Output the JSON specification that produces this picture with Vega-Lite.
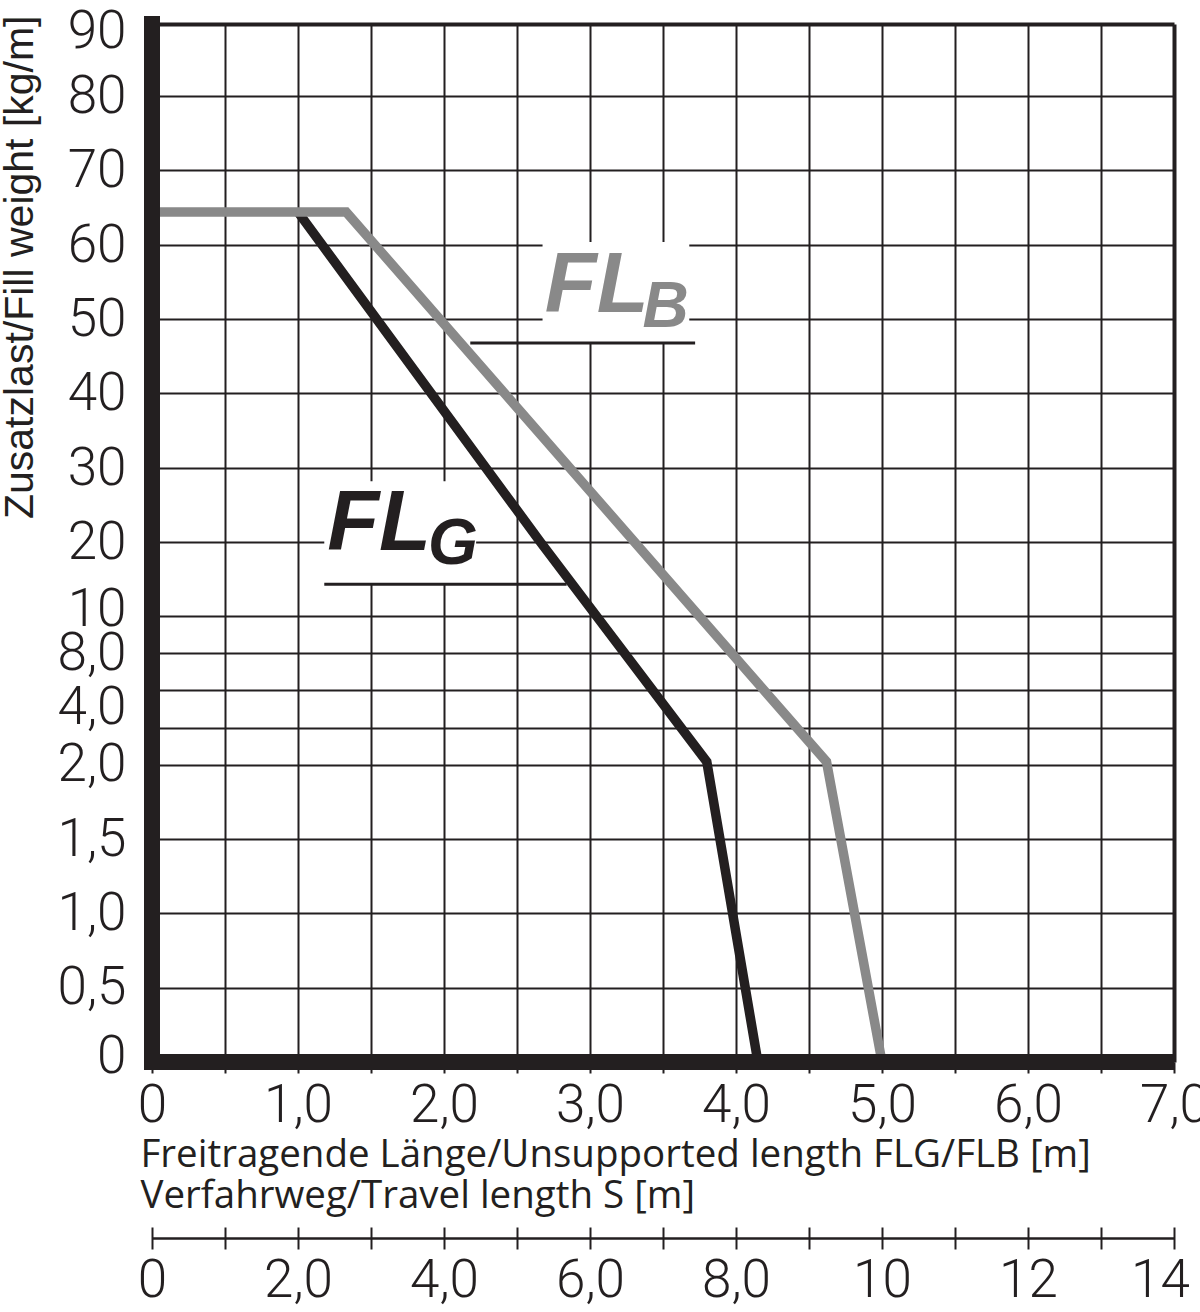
{
  "$schema": "https://vega.github.io/schema/vega-lite/v6.json",
  "width": 1022,
  "height": 1038,
  "autosize": {"type": "none"},
  "padding": {"left": 152, "top": 24, "right": 26, "bottom": 250},
  "background": "white",
  "config": {"view": {"stroke": null}},
  "datasets": {
    "curves": [
      {"series": "FL_G", "FL": 1.0, "load": 64.4},
      {"series": "FL_G", "FL": 2.66, "load": 20},
      {"series": "FL_G", "FL": 3.8, "load": 2.15},
      {"series": "FL_G", "FL": 4.15, "load": 0},
      {"series": "FL_B", "FL": 0, "load": 64.4},
      {"series": "FL_B", "FL": 1.33, "load": 64.4},
      {"series": "FL_B", "FL": 4.62, "load": 2.15},
      {"series": "FL_B", "FL": 5.0, "load": 0}
    ],
    "labelBoxes": [
      {"series": "FL_B", "FL_start": 2.675, "FL_end": 3.68, "load_low": 46.75, "load_high": 60.4},
      {"series": "FL_G", "FL_start": 1.18, "FL_end": 2.22, "load_low": 14.3, "load_high": 28.2}
    ],
    "underlines": [
      {"series": "FL_B", "FL_start": 2.18, "FL_end": 3.72, "load": 46.75},
      {"series": "FL_G", "FL_start": 1.18, "FL_end": 2.84, "load": 14.3}
    ],
    "labels": [
      {"series": "FL_B", "part": "main", "text": "FL", "FL": 2.69, "load": 50.95},
      {"series": "FL_B", "part": "sub", "text": "B", "FL": 3.36, "load": 48.9},
      {"series": "FL_G", "part": "main", "text": "FL", "FL": 1.2, "load": 18.9},
      {"series": "FL_G", "part": "sub", "text": "G", "FL": 1.89, "load": 17.0}
    ],
    "frame": [
      {"edge": "bottom", "FL_start": 0, "FL_end": 7, "load_low": 0, "load_high": 0},
      {"edge": "left", "FL_start": 0, "FL_end": 0, "load_low": 0, "load_high": 90}
    ],
    "travel": [
      {"S": 0}, {"S": 14}
    ]
  },
  "resolve": {"scale": {"x": "independent"}},
  "layer": [
    {
      "data": {"name": "curves"},
      "transform": [{"filter": "datum.series == 'FL_G'"}],
      "mark": {"type": "line", "strokeWidth": 9.5, "strokeJoin": "miter", "strokeCap": "butt", "color": "#231f20"},
      "encoding": {
        "x": {
          "field": "FL", "type": "quantitative",
          "scale": {"domain": [0, 7], "nice": false, "zero": false},
          "axis": {
            "orient": "bottom",
            "values": [0, 0.5, 1, 1.5, 2, 2.5, 3, 3.5, 4, 4.5, 5, 5.5, 6, 6.5, 7],
            "domain": false,
            "grid": true,
            "gridColor": "#231f20",
            "gridWidth": {"condition": {"test": "datum.value == 7", "value": 4}, "value": 2},
            "ticks": true, "tickSize": 11, "tickWidth": 2, "tickColor": "#231f20",
            "labelExpr": "datum.value % 1 != 0 ? '' : (datum.value == 0 ? '0' : replace(format(datum.value, '.1f'), '.', ','))",
            "labelFont": "Roboto", "labelFontWeight": 300, "labelFontSize": 53, "labelColor": "#231f20",
            "labelPadding": 6, "labelFlush": false, "labelOverlap": false, "labelBound": false,
            "title": ["Freitragende Länge/Unsupported length FLG/FLB [m]", "Verfahrweg/Travel length S [m]"],
            "titleFont": "Open Sans", "titleFontSize": 38.5, "titleFontWeight": "normal", "titleColor": "#231f20",
            "titleX": -12, "titleY": 104, "titleAlign": "left", "titleAnchor": "start", "titleBaseline": "alphabetic", "titleLineHeight": 41
          }
        },
        "y": {
          "field": "load", "type": "quantitative",
          "scale": {
            "domain": [0, 0.5, 1, 1.5, 2, 4, 6, 8, 10, 20, 30, 40, 50, 60, 70, 80, 90],
            "range": [1038, 963.5, 889, 815, 740.5, 704, 666, 629, 592, 518, 444, 369, 295, 221, 146, 72, 0],
            "nice": false, "zero": false
          },
          "axis": {
            "orient": "left",
            "values": [0, 0.5, 1, 1.5, 2, 4, 6, 8, 10, 20, 30, 40, 50, 60, 70, 80, 90],
            "domain": false, "ticks": false,
            "grid": true,
            "gridColor": "#231f20",
            "gridWidth": {"condition": {"test": "datum.value == 90", "value": 4}, "value": 2},
            "labelExpr": "datum.value == 0 ? '0' : (datum.value == 6 ? '' : (datum.value < 10 ? replace(format(datum.value, '.1f'), '.', ',') : format(datum.value, 'd')))",
            "labelOffset": {"condition": [{"test": "datum.value == 4", "value": -21}, {"test": "datum.value == 90", "value": 7}, {"test": "datum.value == 10", "value": -7}, {"test": "datum.value == 0", "value": -6}], "value": 0},
            "labelFont": "Roboto", "labelFontWeight": 300, "labelFontSize": 53, "labelColor": "#231f20",
            "labelPadding": 26, "labelOverlap": false, "labelBound": false, "labelFlush": false,
            "title": "Zusatzlast/Fill weight [kg/m]",
            "titleFont": "Liberation Sans", "titleFontSize": 41, "titleFontWeight": "normal", "titleColor": "#231f20",
            "titleAngle": -90, "titleX": -120, "titleY": -9, "titleAlign": "right", "titleBaseline": "alphabetic"
          }
        }
      }
    },
    {
      "data": {"name": "curves"},
      "transform": [{"filter": "datum.series == 'FL_B'"}],
      "mark": {"type": "line", "strokeWidth": 9.5, "strokeJoin": "miter", "strokeCap": "butt", "color": "#898989"},
      "encoding": {
        "x": {"field": "FL", "type": "quantitative", "scale": {"domain": [0, 7], "nice": false, "zero": false}, "axis": null},
        "y": {"field": "load", "type": "quantitative"}
      }
    },
    {
      "data": {"name": "labelBoxes"},
      "mark": {"type": "rect", "color": "white"},
      "encoding": {
        "x": {"field": "FL_start", "type": "quantitative", "scale": {"domain": [0, 7], "nice": false, "zero": false}, "axis": null},
        "x2": {"field": "FL_end"},
        "y": {"field": "load_low", "type": "quantitative"},
        "y2": {"field": "load_high"}
      }
    },
    {
      "data": {"name": "underlines"},
      "mark": {"type": "rule", "color": "#231f20", "strokeWidth": 3},
      "encoding": {
        "x": {"field": "FL_start", "type": "quantitative", "scale": {"domain": [0, 7], "nice": false, "zero": false}, "axis": null},
        "x2": {"field": "FL_end"},
        "y": {"field": "load", "type": "quantitative"}
      }
    },
    {
      "data": {"name": "labels"},
      "transform": [{"filter": "datum.part == 'main'"}],
      "mark": {"type": "text", "font": "Liberation Sans", "fontStyle": "italic", "fontWeight": "bold", "fontSize": 85, "align": "left", "baseline": "alphabetic"},
      "encoding": {
        "x": {"field": "FL", "type": "quantitative", "scale": {"domain": [0, 7], "nice": false, "zero": false}, "axis": null},
        "y": {"field": "load", "type": "quantitative"},
        "text": {"field": "text"},
        "color": {"field": "series", "type": "nominal", "scale": {"domain": ["FL_G", "FL_B"], "range": ["#231f20", "#898989"]}, "legend": null}
      }
    },
    {
      "data": {"name": "labels"},
      "transform": [{"filter": "datum.part == 'sub'"}],
      "mark": {"type": "text", "font": "Liberation Sans", "fontStyle": "italic", "fontWeight": "bold", "fontSize": 64, "align": "left", "baseline": "alphabetic"},
      "encoding": {
        "x": {"field": "FL", "type": "quantitative", "scale": {"domain": [0, 7], "nice": false, "zero": false}, "axis": null},
        "y": {"field": "load", "type": "quantitative"},
        "text": {"field": "text"},
        "color": {"field": "series", "type": "nominal", "legend": null}
      }
    },
    {
      "data": {"name": "frame"},
      "transform": [{"filter": "datum.edge == 'bottom'"}],
      "mark": {"type": "rule", "color": "#231f20", "strokeWidth": 16, "strokeCap": "butt"},
      "encoding": {
        "x": {"field": "FL_start", "type": "quantitative", "scale": {"domain": [0, 7], "nice": false, "zero": false}, "axis": null},
        "x2": {"field": "FL_end"},
        "y": {"field": "load_low", "type": "quantitative"},
        "y2": {"field": "load_high"}
      }
    },
    {
      "data": {"name": "frame"},
      "transform": [{"filter": "datum.edge == 'left'"}],
      "mark": {"type": "rule", "color": "#231f20", "strokeWidth": 16, "strokeCap": "square"},
      "encoding": {
        "x": {"field": "FL_start", "type": "quantitative", "scale": {"domain": [0, 7], "nice": false, "zero": false}, "axis": null},
        "x2": {"field": "FL_end"},
        "y": {"field": "load_low", "type": "quantitative"},
        "y2": {"field": "load_high"}
      }
    },
    {
      "data": {"name": "travel"},
      "mark": {"type": "point", "opacity": 0},
      "encoding": {
        "x": {
          "field": "S", "type": "quantitative",
          "scale": {"domain": [0, 14], "nice": false, "zero": false},
          "axis": {
            "orient": "bottom",
            "offset": 165,
            "values": [0, 1, 2, 3, 4, 5, 6, 7, 8, 9, 10, 11, 12, 13, 14],
            "domain": true, "domainColor": "#231f20", "domainWidth": 2.5,
            "ticks": true, "tickSize": 22, "tickWidth": 2, "tickColor": "#231f20",
            "grid": false,
            "labelExpr": "datum.value % 2 != 0 ? '' : (datum.value == 0 ? '0' : (datum.value < 10 ? replace(format(datum.value, '.1f'), '.', ',') : format(datum.value, 'd')))",
            "labelOffset": {"condition": {"test": "datum.value == 14", "value": -14}, "value": 0},
            "labelFont": "Roboto", "labelFontWeight": 300, "labelFontSize": 53, "labelColor": "#231f20",
            "labelPadding": 5, "labelFlush": false, "labelOverlap": false, "labelBound": false,
            "title": null,
            "encoding": {"domain": {"y": {"value": 11}}}
          }
        }
      }
    }
  ]
}
